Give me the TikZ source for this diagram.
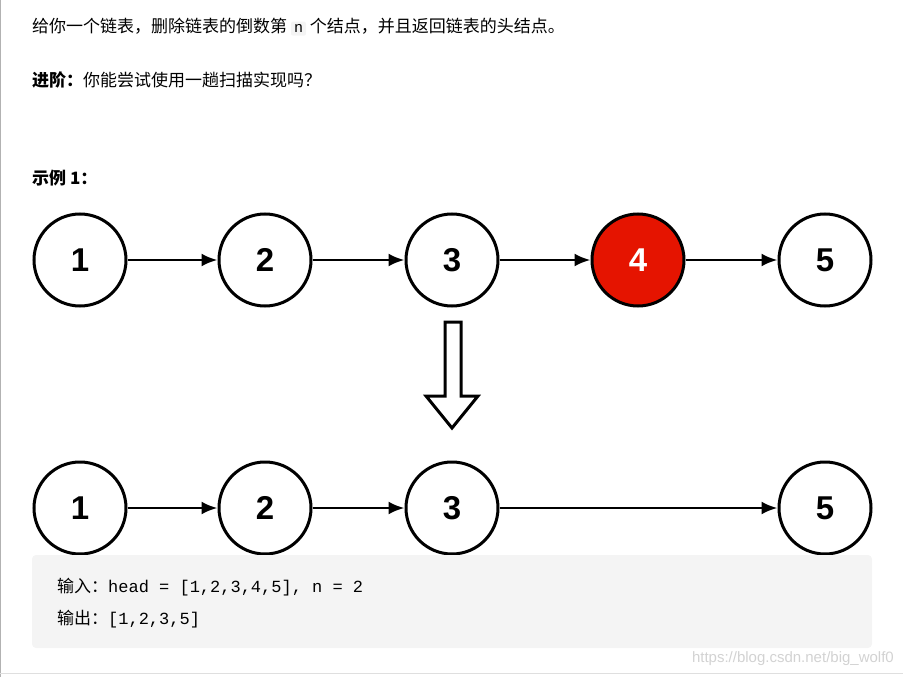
\documentclass[tikz,border=0pt]{standalone}
\usepackage{fontspec}
\setmainfont{Liberation Sans}
\newfontfamily\cjk{Noto Sans CJK SC}
\newfontfamily\monofont{Liberation Mono}
\usetikzlibrary{positioning, arrows.meta}
\definecolor{nodered}{HTML}{E51400}
\definecolor{codebg}{HTML}{F4F4F4}

\begin{document}
\begin{tikzpicture}[x=1pt, y=-1pt]
  \def\noderadius{46pt}
  \tikzstyle{listnode} = [circle, draw, line width = 3pt, fill=white, inner sep = 0pt, minimum size = 2*\noderadius, font=\fontsize{33}{33}\selectfont\bfseries]
  \tikzstyle{link} = [line width = 2.6pt, -{Latex[length=16pt, width=13pt]}]
  \tikzstyle{para} = [anchor=west, inner sep = 0pt, font=\fontsize{17}{17}\selectfont]

  \useasboundingbox (0,0) rectangle (903,677);
  \draw[gray!60, line width=1pt] (0.5,0) -- (0.5,677);
  \draw[gray!25, line width=1pt] (0,673) -- (903,673);

  % heading text
  \node[para] (intro) at (32, 27) {\cjk 给你一个链表，删除链表的倒数第 \tikz[baseline=(n.base)]\node[fill=codebg, rounded corners=2pt, inner sep=3pt] (n) {\monofont\fontsize{15}{15}\selectfont n}; 个结点，并且返回链表的头结点。};
  \node[para] (advance) at (32, 80) {\cjk\bfseries 进阶：\mdseries 你能尝试使用一趟扫描实现吗？};
  \node[para] (example) at (32, 178) {\cjk\bfseries 示例 1：};

  % before
  \node[listnode] (a1) at (80, 260) {1};
  \node[listnode] (a2) at (265, 260) {2};
  \node[listnode] (a3) at (452, 260) {3};
  \node[listnode, fill=nodered, text=white] (a4) at (638, 260) {4};
  \node[listnode] (a5) at (825, 260) {5};
  \draw[link] (a1) -- (a2);
  \draw[link] (a2) -- (a3);
  \draw[link] (a3) -- (a4);
  \draw[link] (a4) -- (a5);

  % down arrow
  \draw[line width=3pt, fill=white] (445,322) -- (461,322) -- (461,396) -- (478,396)
    -- (452,428) -- (426,396) -- (445,396) -- cycle;

  % after
  \node[listnode] (b1) at (80, 508) {1};
  \node[listnode] (b2) at (265, 508) {2};
  \node[listnode] (b3) at (452, 508) {3};
  \node[listnode] (b5) at (825, 508) {5};
  \draw[link] (b1) -- (b2);
  \draw[link] (b2) -- (b3);
  \draw[link] (b3) -- (b5);

  % code box
  \fill[codebg, rounded corners=4pt] (32,555) rectangle (872,648);
  \node[para] (input) at (57, 587) {\cjk 输入：\monofont head = [1,2,3,4,5], n = 2};
  \node[para] (output) at (57, 619) {\cjk 输出：\monofont [1,2,3,5]};
  \node[anchor=east, inner sep=0pt, text=gray!35, font=\fontsize{15}{15}\selectfont] (mark) at (894, 659) {https://blog.csdn.net/big\_wolf0};
\end{tikzpicture}
\end{document}
